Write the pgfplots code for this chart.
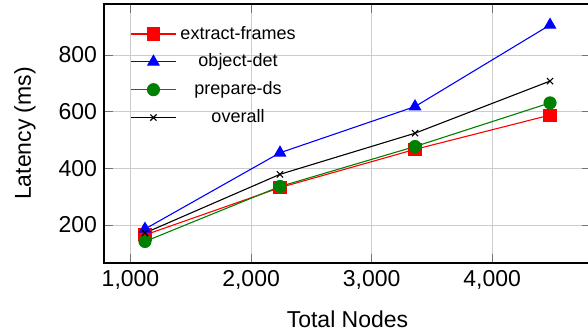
\documentclass[border=0pt]{standalone}
\usepackage{fontspec}
\setmainfont{Liberation Sans}
\usepackage{pgfplots}
\pgfplotsset{compat=1.18}
\begin{document}
\begin{tikzpicture}
\begin{axis}[
  name=ax,
  scale only axis,
  width=243.5pt, height=129.5pt,
  xmin=780, xmax=4820,
  ymin=66, ymax=980,
  xtick={1000,2000,3000,4000},
  ytick={200,400,600,800},
  /pgf/number format/assume math mode=true,
  /pgf/number format/1000 sep={,},
  ticklabel style={font=\fontsize{11.5}{13}\selectfont},
  xlabel={Total Nodes},
  ylabel={Latency (ms)},
  every axis x label/.style={at={(axis description cs:0.5,0)}, anchor=center, yshift=-28pt, font=\fontsize{11.5}{13}\selectfont},
  every axis y label/.style={at={(axis description cs:0,0.5)}, anchor=center, xshift=-39.5pt, rotate=90, font=\fontsize{11.5}{13}\selectfont},
  grid=major,
  grid style={black!20, line width=0.5pt},
  major tick style={black!55, line width=0.5pt},
  axis line style={black, line width=0.7pt},
  legend cell align=center,
  legend style={draw=none, fill=none, at={(axis description cs:0,1)}, anchor=north west,
    xshift=10pt, yshift=-6.8pt, font=\fontsize{9}{10.5}\selectfont, row sep=1.9pt,
    /tikz/every even column/.append style={column sep=2pt}},
  legend image code/.code={\draw[mark repeat=2,mark phase=2] plot coordinates {(0pt,0pt)(11.25pt,0pt)(22.5pt,0pt)};},
  every axis plot/.append style={line width=0.55pt},
]
\addplot[red, mark=square*, mark size=3pt, mark options={solid}] coordinates {(1120,165) (2240,332) (3360,467) (4480,588)};
\addlegendentry{extract-frames}
\addplot[blue, mark=triangle*, mark size=3.2pt] coordinates {(1120,186) (2240,455) (3360,618) (4480,906)};
\addlegendentry{object-det}
\addplot[green!50!black, mark=*, mark size=3pt] coordinates {(1120,142) (2240,336) (3360,477) (4480,631)};
\addlegendentry{prepare-ds}
\addplot[black, mark=x, mark size=2.2pt] coordinates {(1120,172) (2240,379) (3360,524) (4480,708)};
\addlegendentry{overall}
\end{axis}
\pgfresetboundingbox
\path[use as bounding box] ([shift={(-52pt,-36pt)}]ax.south west) rectangle ++(294pt,167.5pt);
\end{tikzpicture}
\end{document}
